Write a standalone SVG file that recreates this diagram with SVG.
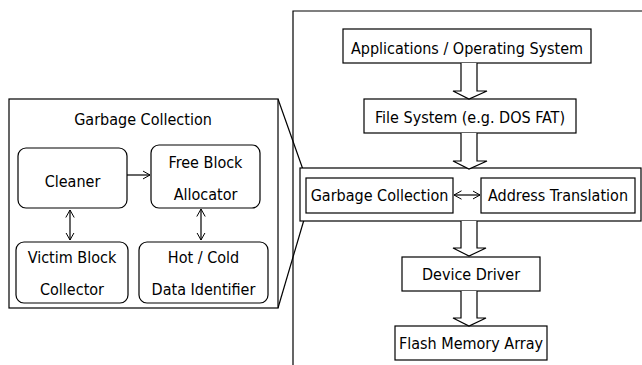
<svg xmlns="http://www.w3.org/2000/svg" width="642" height="365" viewBox="0 0 642 365">
  <defs>
    <marker id="tip" viewBox="0 0 8 10" refX="7.5" refY="5" markerWidth="8" markerHeight="10" markerUnits="userSpaceOnUse" orient="auto-start-reverse">
      <path d="M0,0.8 L7.5,5 L0,9.2" fill="none" stroke="#000" stroke-width="1"/>
    </marker>
    <style>
      .box { fill: #fff; stroke: #000; stroke-width: 1.2; }
      .frame { fill: none; stroke: #000; stroke-width: 1.2; }
      .lbl { font-family: "DejaVu Sans Condensed", "DejaVu Sans", sans-serif; font-size: 16px; fill: #000; text-anchor: middle; }
      .conn { fill: none; stroke: #000; stroke-width: 1.2; }
      .fat { fill: #fff; stroke: #000; stroke-width: 1.2; stroke-linejoin: miter; }
    </style>
  </defs>

  <rect width="642" height="365" fill="#fff"/>

  <!-- outer frame of the storage stack -->
  <path class="frame" d="M642,11 H293 V365"/>

  <!-- zoom lines from the detail panel to the garbage collection block -->
  <g id="zoom-lines">
    <line class="conn" x1="278" y1="99" x2="306" y2="178"/>
    <line class="conn" x1="278" y1="308" x2="306" y2="213"/>
  </g>

  <!-- detail panel -->
  <g id="gc-panel">
    <rect class="box" x="9" y="99" width="269" height="209"/>
    <text class="lbl" x="143" y="125">Garbage Collection</text>
  </g>
  <g id="cleaner">
    <rect class="box" x="18" y="148" width="109" height="60" rx="8"/>
    <text class="lbl" x="72.5" y="186.5">Cleaner</text>
  </g>
  <g id="free-block-allocator">
    <rect class="box" x="151" y="145" width="109" height="63" rx="8"/>
    <text class="lbl" x="205.5" y="168">Free Block</text>
    <text class="lbl" x="205.5" y="200">Allocator</text>
  </g>
  <g id="victim-block-collector">
    <rect class="box" x="16" y="242" width="112" height="61" rx="8"/>
    <text class="lbl" x="72" y="263">Victim Block</text>
    <text class="lbl" x="72" y="295">Collector</text>
  </g>
  <g id="hot-cold-identifier">
    <rect class="box" x="139" y="242" width="129" height="61" rx="8"/>
    <text class="lbl" x="203.5" y="263">Hot / Cold</text>
    <text class="lbl" x="203.5" y="295">Data Identifier</text>
  </g>

  <!-- storage stack -->
  <g id="apps">
    <rect class="box" x="343" y="29" width="248" height="34"/>
    <text class="lbl" x="467" y="53.5">Applications / Operating System</text>
  </g>
  <g id="file-system">
    <rect class="box" x="364" y="99" width="212" height="34"/>
    <text class="lbl" x="470" y="123">File System (e.g. DOS FAT)</text>
  </g>
  <g id="ftl">
    <rect class="box" x="300" y="168" width="341" height="53"/>
  </g>
  <g id="gc">
    <rect class="box" x="306" y="178" width="147" height="35"/>
    <text class="lbl" x="379.5" y="201">Garbage Collection</text>
  </g>
  <g id="address-translation">
    <rect class="box" x="481" y="178" width="154" height="35"/>
    <text class="lbl" x="558" y="201">Address Translation</text>
  </g>
  <g id="device-driver">
    <rect class="box" x="402" y="257" width="138" height="34"/>
    <text class="lbl" x="471" y="280">Device Driver</text>
  </g>
  <g id="flash">
    <rect class="box" x="395" y="326" width="152" height="34"/>
    <text class="lbl" x="471" y="349">Flash Memory Array</text>
  </g>

  <g id="connectors">
    <line class="conn" x1="127" y1="175" x2="150" y2="175" marker-end="url(#tip)"/>
    <line class="conn" x1="70" y1="210" x2="70" y2="240" marker-start="url(#tip)" marker-end="url(#tip)"/>
    <line class="conn" x1="201" y1="209" x2="201" y2="240" marker-start="url(#tip)" marker-end="url(#tip)"/>
    <line class="conn" x1="454" y1="195" x2="480" y2="195" marker-start="url(#tip)" marker-end="url(#tip)"/>
    <path class="fat" d="M461,63 V91 H453 L469,99 L487,91 H477 V63"/>
    <path class="fat" d="M461,133 V161 H453 L469,169 L487,161 H477 V133"/>
    <path class="fat" d="M461,221 V248 H453 L469,256 L486,248 H477 V221"/>
    <path class="fat" d="M461,291 V318 H453 L469,326 L486,318 H477 V291"/>
  </g>
</svg>
